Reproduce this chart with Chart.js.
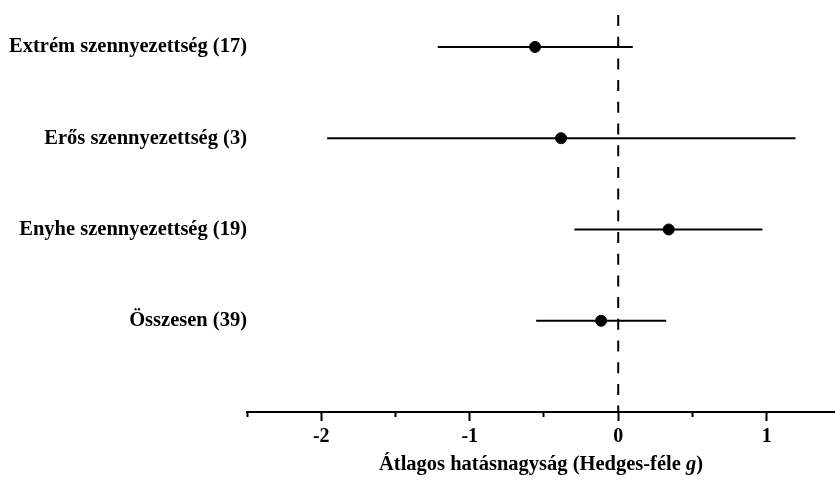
<!DOCTYPE html>
<html>
<head>
<meta charset="utf-8">
<script src="https://cdn.jsdelivr.net/npm/chart.js@4"></script>
<style>
html, body { margin: 0; padding: 0; background: #fff; }
</style>
</head>
<body>
<canvas id="forest" width="835" height="481"></canvas>
<script>
const groups = ['Extrém szennyezettség (17)', 'Erős szennyezettség (3)', 'Enyhe szennyezettség (19)', 'Összesen (39)'];
const effect = [-0.56, -0.385, 0.34, -0.115];
const ciLow = [-1.215, -1.96, -0.295, -0.553];
const ciHigh = [0.098, 1.194, 0.971, 0.323];
const majorTicks = [-2, -1, 0, 1];
const minorTicks = [-2.5, -1.5, -0.5, 0.5];
// axis title, the "g" is set in italic
const xTitle = ['Átlagos hatásnagyság (Hedges-féle ', 'g', ')'];

const X_MIN = -2.5, X_MAX = 1.46, Y_MAX = 4.35;
const FONT = 'Liberation Serif, Times New Roman, serif';

function row(i) {
    return groups.length - i;
}

const datasets = [];

// confidence intervals
groups.forEach((g, i) => {
    datasets.push({
        type: 'line',
        data: [{x: ciLow[i], y: row(i)}, {x: ciHigh[i], y: row(i)}],
        borderColor: '#000',
        borderWidth: 2,
        pointRadius: 0,
        clip: false
    });
});

// zero line
datasets.push({
    type: 'line',
    data: [{x: 0, y: Y_MAX}, {x: 0, y: 0}],
    borderColor: '#000',
    borderWidth: 2,
    borderDash: [11, 10.7],
    pointRadius: 0,
    clip: false
});

// effect sizes
datasets.push({
    data: effect.map((v, i) => ({x: v, y: row(i)})),
    backgroundColor: '#000',
    borderColor: '#000',
    borderWidth: 1,
    pointRadius: 5.5,
    clip: false
});

const titlePlugin = {
    id: 'xTitle',
    afterDraw(chart) {
        const ctx = chart.ctx;
        const area = chart.chartArea;
        const fonts = ['bold 20.5px ' + FONT, 'italic bold 20.5px ' + FONT, 'bold 20.5px ' + FONT];
        ctx.save();
        ctx.fillStyle = '#000';
        ctx.textBaseline = 'middle';
        ctx.textAlign = 'left';
        let widths = xTitle.map((t, i) => { ctx.font = fonts[i]; return ctx.measureText(t).width; });
        let x = (area.left + area.right) / 2 - widths.reduce((a, b) => a + b, 0) / 2;
        xTitle.forEach((t, i) => {
            ctx.font = fonts[i];
            ctx.fillText(t, x, 465);
            x += widths[i];
        });
        ctx.restore();
    }
};

new Chart(document.getElementById('forest'), {
    type: 'scatter',
    data: {datasets: datasets},
    plugins: [titlePlugin],
    options: {
        responsive: false,
        animation: false,
        layout: {autoPadding: false, padding: {top: 15, right: 0, bottom: 0, left: 0}},
        plugins: {
            legend: {display: false},
            tooltip: {enabled: false}
        },
        scales: {
            x: {
                type: 'linear',
                min: X_MIN,
                max: X_MAX,
                afterBuildTicks: axis => {
                    axis.ticks = majorTicks.map(v => ({value: v}));
                },
                afterFit: axis => {
                    axis.height = 69;
                },
                border: {color: '#000', width: 2},
                grid: {drawOnChartArea: false, tickLength: 9, tickWidth: 2, color: '#000'},
                ticks: {
                    color: '#000',
                    padding: 4,
                    maxRotation: 0,
                    font: {family: FONT, size: 20, weight: 'bold'}
                }
            },
            xMinor: {
                type: 'linear',
                axis: 'x',
                min: X_MIN,
                max: X_MAX,
                position: {y: 0},
                afterBuildTicks: axis => {
                    axis.ticks = minorTicks.map(v => ({value: v}));
                },
                border: {display: false},
                grid: {drawOnChartArea: false, tickLength: 5, tickWidth: 2, color: '#000'},
                ticks: {display: false}
            },
            y: {
                type: 'linear',
                min: 0,
                max: Y_MAX,
                afterBuildTicks: axis => {
                    axis.ticks = groups.map((g, i) => ({value: row(i)}));
                },
                afterFit: axis => {
                    axis.width = 247;
                },
                border: {display: false},
                grid: {display: false, drawTicks: false},
                ticks: {
                    color: '#000',
                    padding: 0,
                    callback: v => groups[groups.length - v],
                    font: {family: FONT, size: 20.5, weight: 'bold'}
                }
            }
        }
    }
});
</script>
</body>
</html>
